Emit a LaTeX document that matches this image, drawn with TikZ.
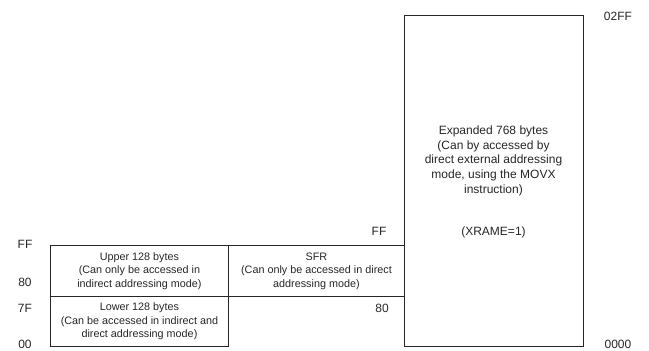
\documentclass[tikz,border=0pt]{standalone}
\usepackage{fontspec}
\setmainfont{Liberation Sans}
\begin{document}
\begin{tikzpicture}[x=1pt,y=-1pt,
  region/.style={draw=black!85, line width=0.9pt},
  smalltxt/.style={font=\fontsize{10.8}{13.5}\selectfont, align=center, text=black!85},
  bigtxt/.style={font=\fontsize{12}{14.8}\selectfont, align=center, text=black!85},
  addr/.style={font=\fontsize{12}{13}\selectfont, text=black!85, inner sep=0pt}]
\useasboundingbox (0,0) rectangle (649,351);
% boxes
\node[region, minimum width=178pt, minimum height=51pt, anchor=north west, inner sep=0pt] (upper) at (50,245) {};
\node[region, minimum width=176pt, minimum height=51pt, anchor=north west, inner sep=0pt] (sfr) at (228,245) {};
\node[region, minimum width=178pt, minimum height=50pt, anchor=north west, inner sep=0pt] (lower) at (50,296) {};
\node[region, minimum width=179pt, minimum height=331pt, anchor=north west, inner sep=0pt] (ext) at (404,15) {};
% texts
\node[smalltxt] (uppert) at (upper.center) {Upper 128 bytes\\(Can only be accessed in\\indirect addressing mode)};
\node[smalltxt] (sfrt) at (sfr.center) {SFR\\(Can only be accessed in direct\\addressing mode)};
\node[smalltxt] (lowert) at (lower.center) {Lower 128 bytes\\(Can be accessed in indirect and\\direct addressing mode)};
\node[bigtxt, anchor=north] (extt) at (493.5,122) {Expanded 768 bytes\\(Can by accessed by\\direct external addressing\\mode, using the MOVX\\instruction)\\[27pt](XRAME=1)};
% address labels
\node[addr] (lff) at (25,244) {FF};
\node[addr] (l80) at (25,282) {80};
\node[addr] (l7f) at (25,308) {7F};
\node[addr] (l00) at (25,344) {00};
\node[addr] (rff) at (379,231) {FF};
\node[addr] (r80) at (382,308) {80};
\node[addr] (x02ff) at (618,16) {02FF};
\node[addr] (x0000) at (618,344) {0000};
\end{tikzpicture}
\end{document}
